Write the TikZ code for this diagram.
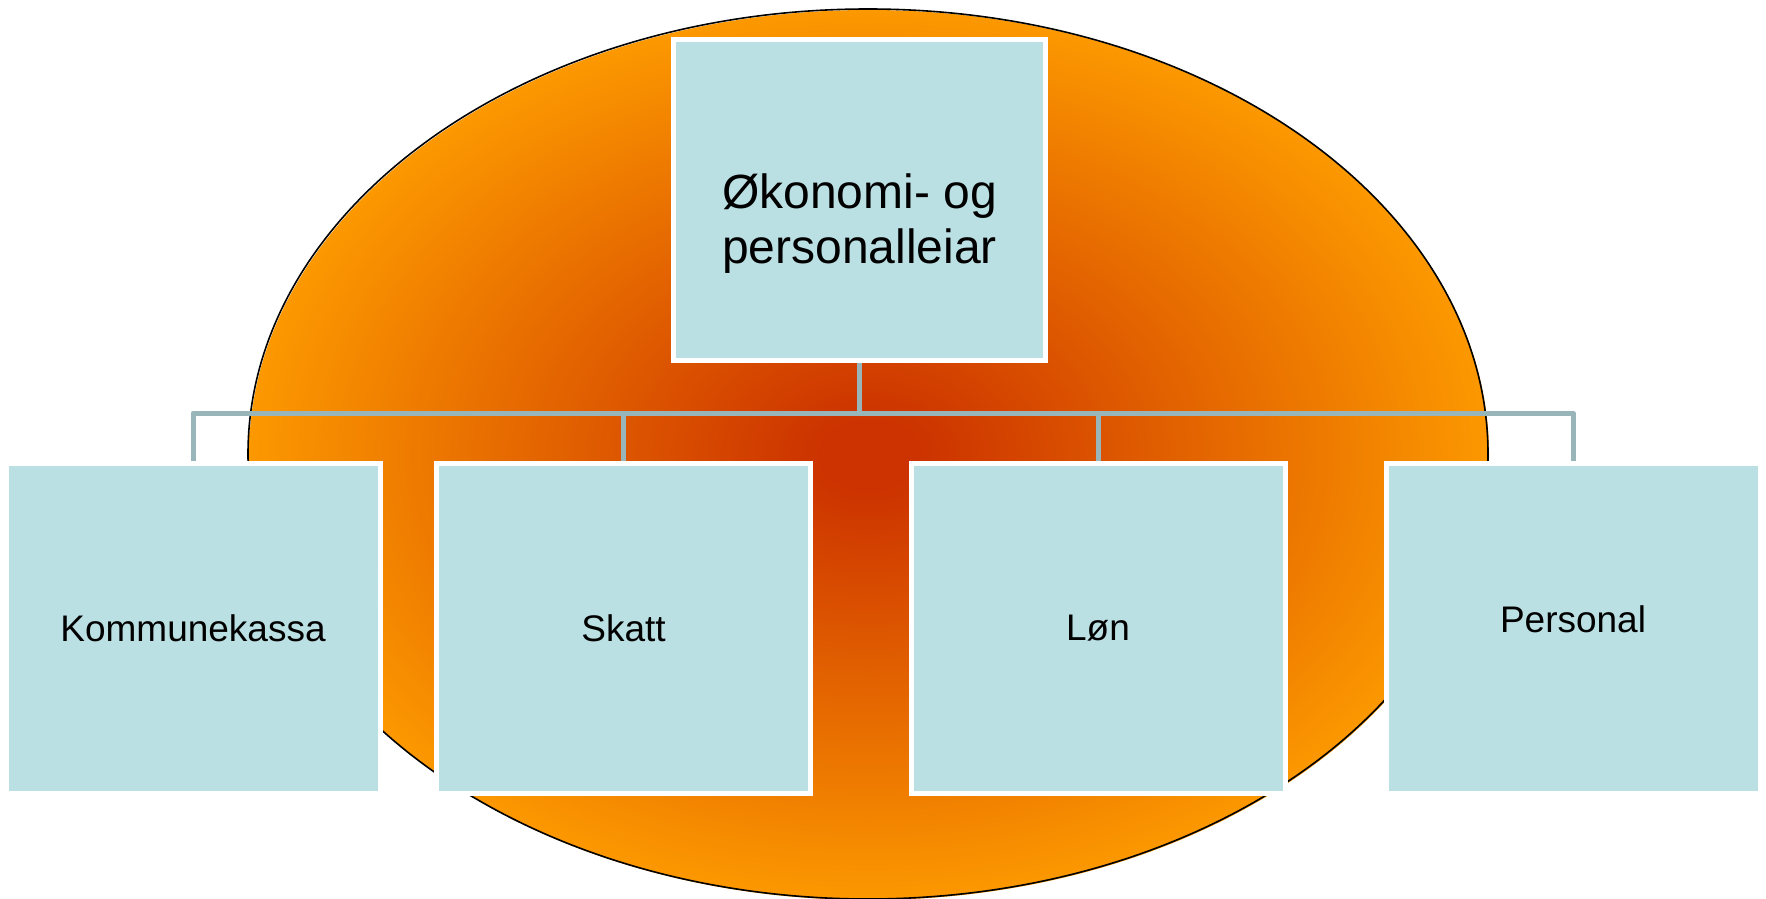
\documentclass[tikz,border=0pt]{standalone}
\usepackage{fontspec}
\setmainfont{Liberation Sans}
\definecolor{cred}{RGB}{204,51,0}
\definecolor{corange}{RGB}{252,152,0}
\definecolor{boxfill}{RGB}{187,224,227}
\definecolor{conncol}{RGB}{152,181,185}
\pgfdeclareradialshading{ellshade}{\pgfpoint{0bp}{0bp}}{color(0bp)=(cred); color(2bp)=(cred); color(25bp)=(corange); color(50bp)=(corange)}
\pgfdeclarelayer{bg}
\pgfdeclarelayer{mid}
\pgfsetlayers{bg,mid,main}
\tikzset{
  orgbox/.style={draw=white, line width=5pt, fill=boxfill, inner sep=0pt,
    minimum width=374pt, minimum height=330pt,
    font=\fontsize{37}{44}\selectfont, text=black},
  topbox/.style={orgbox, minimum width=372pt, minimum height=321pt,
    font=\fontsize{48}{55}\selectfont},
  conn/.style={draw=conncol, line width=5pt, line join=round},
}
\begin{document}
\begin{tikzpicture}[x=1pt, y=-1pt]
\useasboundingbox (0,0) rectangle (1766,899);

\node[topbox] (top) at (859.5,200) {\raisebox{-24.5pt}[\height][\depth]{\begin{tabular}{@{}c@{}}Økonomi- og\\personalleiar\end{tabular}}};
\node[orgbox] (kom) at (193,628.5) {Kommunekassa};
\node[orgbox] (skatt) at (623.5,628.5) {Skatt};
\node[orgbox] (lon) at (1098,628.5) {Løn};
\node[orgbox] (pers) at (1573,628.5) {\raisebox{9pt}[\height][\depth]{Personal}};

\coordinate (bus) at (0,413);

\begin{pgfonlayer}{bg}
  \shade[shading=ellshade] (869,455) ellipse [x radius=620pt, y radius=445pt];
  \draw[black, line width=1.6pt] (868,454) ellipse [x radius=620pt, y radius=445pt];
\end{pgfonlayer}

\begin{pgfonlayer}{mid}
  \draw[conn] (top.south) -- (top.south |- bus) -| (kom.north);
  \draw[conn] (top.south) -- (top.south |- bus) -| (skatt.north);
  \draw[conn] (top.south) -- (top.south |- bus) -| (lon.north);
  \draw[conn] (top.south) -- (top.south |- bus) -| (pers.north);
\end{pgfonlayer}
\end{tikzpicture}
\end{document}
